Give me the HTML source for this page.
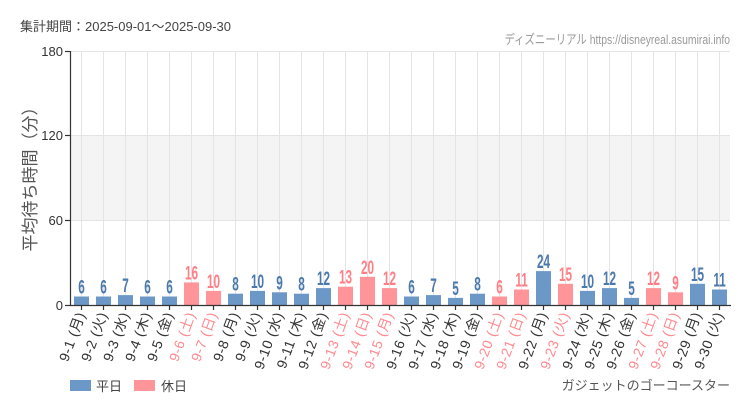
<!DOCTYPE html>
<html><head><meta charset="utf-8"><style>
html,body{margin:0;padding:0;background:#fff;}
svg{display:block;font-family:"Liberation Sans","Noto Sans CJK JP",sans-serif;}
.v{font-size:19px;text-anchor:middle;font-weight:bold;transform-box:fill-box;transform-origin:50% 100%;transform:scaleX(.62);}
.xl{font-size:14px;letter-spacing:0.6px;text-anchor:end;fill:#333}
.xl.hd{fill:#ff8a90}
.url{transform-box:fill-box;transform-origin:100% 50%;transform:scaleX(.8);}
.w{fill:#6b98c6}.h{fill:#ff9499}.v.w{fill:#4a79ac}.v.h{fill:#ff7f86}
</style></head><body>
<svg width="750" height="410" viewBox="0 0 750 410" xmlns="http://www.w3.org/2000/svg">
<text x="20" y="31" font-size="13" fill="#444">集計期間：2025-09-01～2025-09-30</text>
<text class="url" x="730" y="44" font-size="13" fill="#999" text-anchor="end">ディズニーリアル https://disneyreal.asumirai.info</text>
<rect x="70" y="136" width="660" height="84" fill="#f4f4f4"/>
<g stroke="#e4e4e4" stroke-width="1">
<line x1="70" y1="51.5" x2="730" y2="51.5"/><line x1="70" y1="135.5" x2="730" y2="135.5"/><line x1="70" y1="220.5" x2="730" y2="220.5"/>
<line x1="81.5" y1="51" x2="81.5" y2="305"/><line x1="103.5" y1="51" x2="103.5" y2="305"/><line x1="125.5" y1="51" x2="125.5" y2="305"/><line x1="147.5" y1="51" x2="147.5" y2="305"/><line x1="169.5" y1="51" x2="169.5" y2="305"/><line x1="191.5" y1="51" x2="191.5" y2="305"/><line x1="213.5" y1="51" x2="213.5" y2="305"/><line x1="235.5" y1="51" x2="235.5" y2="305"/><line x1="257.5" y1="51" x2="257.5" y2="305"/><line x1="279.5" y1="51" x2="279.5" y2="305"/><line x1="301.5" y1="51" x2="301.5" y2="305"/><line x1="323.5" y1="51" x2="323.5" y2="305"/><line x1="345.5" y1="51" x2="345.5" y2="305"/><line x1="367.5" y1="51" x2="367.5" y2="305"/><line x1="389.5" y1="51" x2="389.5" y2="305"/><line x1="411.5" y1="51" x2="411.5" y2="305"/><line x1="433.5" y1="51" x2="433.5" y2="305"/><line x1="455.5" y1="51" x2="455.5" y2="305"/><line x1="477.5" y1="51" x2="477.5" y2="305"/><line x1="499.5" y1="51" x2="499.5" y2="305"/><line x1="521.5" y1="51" x2="521.5" y2="305"/><line x1="543.5" y1="51" x2="543.5" y2="305"/><line x1="565.5" y1="51" x2="565.5" y2="305"/><line x1="587.5" y1="51" x2="587.5" y2="305"/><line x1="609.5" y1="51" x2="609.5" y2="305"/><line x1="631.5" y1="51" x2="631.5" y2="305"/><line x1="653.5" y1="51" x2="653.5" y2="305"/><line x1="675.5" y1="51" x2="675.5" y2="305"/><line x1="697.5" y1="51" x2="697.5" y2="305"/><line x1="719.5" y1="51" x2="719.5" y2="305"/>
</g>
<g>
<rect class="w" x="74" y="296.5" width="15" height="8.5"/>
<rect class="w" x="96" y="296.5" width="15" height="8.5"/>
<rect class="w" x="118" y="295.1" width="15" height="9.9"/>
<rect class="w" x="140" y="296.5" width="15" height="8.5"/>
<rect class="w" x="162" y="296.5" width="15" height="8.5"/>
<rect class="h" x="184" y="282.4" width="15" height="22.6"/>
<rect class="h" x="206" y="290.9" width="15" height="14.1"/>
<rect class="w" x="228" y="293.7" width="15" height="11.3"/>
<rect class="w" x="250" y="290.9" width="15" height="14.1"/>
<rect class="w" x="272" y="292.3" width="15" height="12.7"/>
<rect class="w" x="294" y="293.7" width="15" height="11.3"/>
<rect class="w" x="316" y="288.1" width="15" height="16.9"/>
<rect class="h" x="338" y="286.7" width="15" height="18.3"/>
<rect class="h" x="360" y="276.8" width="15" height="28.2"/>
<rect class="h" x="382" y="288.1" width="15" height="16.9"/>
<rect class="w" x="404" y="296.5" width="15" height="8.5"/>
<rect class="w" x="426" y="295.1" width="15" height="9.9"/>
<rect class="w" x="448" y="297.9" width="15" height="7.1"/>
<rect class="w" x="470" y="293.7" width="15" height="11.3"/>
<rect class="h" x="492" y="296.5" width="15" height="8.5"/>
<rect class="h" x="514" y="289.5" width="15" height="15.5"/>
<rect class="w" x="536" y="271.1" width="15" height="33.9"/>
<rect class="h" x="558" y="283.8" width="15" height="21.2"/>
<rect class="w" x="580" y="290.9" width="15" height="14.1"/>
<rect class="w" x="602" y="288.1" width="15" height="16.9"/>
<rect class="w" x="624" y="297.9" width="15" height="7.1"/>
<rect class="h" x="646" y="288.1" width="15" height="16.9"/>
<rect class="h" x="668" y="292.3" width="15" height="12.7"/>
<rect class="w" x="690" y="283.8" width="15" height="21.2"/>
<rect class="w" x="712" y="289.5" width="15" height="15.5"/>
</g>
<g>
<text class="v w" x="81.5" y="293.5">6</text>
<text class="v w" x="103.5" y="293.5">6</text>
<text class="v w" x="125.5" y="292">7</text>
<text class="v w" x="147.5" y="293.5">6</text>
<text class="v w" x="169.5" y="293.5">6</text>
<text class="v h" x="191.5" y="279.5">16</text>
<text class="v h" x="213.5" y="288">10</text>
<text class="v w" x="235.5" y="290.5">8</text>
<text class="v w" x="257.5" y="288">10</text>
<text class="v w" x="279.5" y="289.3">9</text>
<text class="v w" x="301.5" y="290.5">8</text>
<text class="v w" x="323.5" y="285">12</text>
<text class="v h" x="345.5" y="283.7">13</text>
<text class="v h" x="367.5" y="273.8">20</text>
<text class="v h" x="389.5" y="285">12</text>
<text class="v w" x="411.5" y="293.5">6</text>
<text class="v w" x="433.5" y="292">7</text>
<text class="v w" x="455.5" y="295">5</text>
<text class="v w" x="477.5" y="290.5">8</text>
<text class="v h" x="499.5" y="293.5">6</text>
<text class="v h" x="521.5" y="286.5">11</text>
<text class="v w" x="543.5" y="268">24</text>
<text class="v h" x="565.5" y="280.8">15</text>
<text class="v w" x="587.5" y="288">10</text>
<text class="v w" x="609.5" y="285">12</text>
<text class="v w" x="631.5" y="295">5</text>
<text class="v h" x="653.5" y="285">12</text>
<text class="v h" x="675.5" y="289.3">9</text>
<text class="v w" x="697.5" y="280.8">15</text>
<text class="v w" x="719.5" y="286.5">11</text>
</g>
<g stroke="#333" stroke-width="1.2">
<line x1="70.5" y1="51" x2="70.5" y2="305"/>
<line x1="70" y1="305.5" x2="731" y2="305.5"/>
<line x1="65" y1="51.5" x2="70" y2="51.5"/><line x1="65" y1="135.5" x2="70" y2="135.5"/><line x1="65" y1="220.5" x2="70" y2="220.5"/><line x1="65" y1="305.5" x2="70" y2="305.5"/>
<line x1="81.5" y1="305" x2="81.5" y2="310"/><line x1="103.5" y1="305" x2="103.5" y2="310"/><line x1="125.5" y1="305" x2="125.5" y2="310"/><line x1="147.5" y1="305" x2="147.5" y2="310"/><line x1="169.5" y1="305" x2="169.5" y2="310"/><line x1="191.5" y1="305" x2="191.5" y2="310"/><line x1="213.5" y1="305" x2="213.5" y2="310"/><line x1="235.5" y1="305" x2="235.5" y2="310"/><line x1="257.5" y1="305" x2="257.5" y2="310"/><line x1="279.5" y1="305" x2="279.5" y2="310"/><line x1="301.5" y1="305" x2="301.5" y2="310"/><line x1="323.5" y1="305" x2="323.5" y2="310"/><line x1="345.5" y1="305" x2="345.5" y2="310"/><line x1="367.5" y1="305" x2="367.5" y2="310"/><line x1="389.5" y1="305" x2="389.5" y2="310"/><line x1="411.5" y1="305" x2="411.5" y2="310"/><line x1="433.5" y1="305" x2="433.5" y2="310"/><line x1="455.5" y1="305" x2="455.5" y2="310"/><line x1="477.5" y1="305" x2="477.5" y2="310"/><line x1="499.5" y1="305" x2="499.5" y2="310"/><line x1="521.5" y1="305" x2="521.5" y2="310"/><line x1="543.5" y1="305" x2="543.5" y2="310"/><line x1="565.5" y1="305" x2="565.5" y2="310"/><line x1="587.5" y1="305" x2="587.5" y2="310"/><line x1="609.5" y1="305" x2="609.5" y2="310"/><line x1="631.5" y1="305" x2="631.5" y2="310"/><line x1="653.5" y1="305" x2="653.5" y2="310"/><line x1="675.5" y1="305" x2="675.5" y2="310"/><line x1="697.5" y1="305" x2="697.5" y2="310"/><line x1="719.5" y1="305" x2="719.5" y2="310"/>
</g>
<g font-size="13" fill="#333" text-anchor="end">
<text x="63" y="56">180</text><text x="63" y="140">120</text><text x="63" y="225">60</text><text x="63" y="310">0</text>
</g>
<text transform="translate(36,175) rotate(-90)" font-size="17" fill="#555" text-anchor="middle">平均待ち時間（分）</text>
<g>
<text class="xl" transform="translate(85.5,314) rotate(-70)">9-1 (月)</text>
<text class="xl" transform="translate(107.5,314) rotate(-70)">9-2 (火)</text>
<text class="xl" transform="translate(129.5,314) rotate(-70)">9-3 (水)</text>
<text class="xl" transform="translate(151.5,314) rotate(-70)">9-4 (木)</text>
<text class="xl" transform="translate(173.5,314) rotate(-70)">9-5 (金)</text>
<text class="xl hd" transform="translate(195.5,314) rotate(-70)">9-6 (土)</text>
<text class="xl hd" transform="translate(217.5,314) rotate(-70)">9-7 (日)</text>
<text class="xl" transform="translate(239.5,314) rotate(-70)">9-8 (月)</text>
<text class="xl" transform="translate(261.5,314) rotate(-70)">9-9 (火)</text>
<text class="xl" transform="translate(283.5,314) rotate(-70)">9-10 (水)</text>
<text class="xl" transform="translate(305.5,314) rotate(-70)">9-11 (木)</text>
<text class="xl" transform="translate(327.5,314) rotate(-70)">9-12 (金)</text>
<text class="xl hd" transform="translate(349.5,314) rotate(-70)">9-13 (土)</text>
<text class="xl hd" transform="translate(371.5,314) rotate(-70)">9-14 (日)</text>
<text class="xl hd" transform="translate(393.5,314) rotate(-70)">9-15 (月)</text>
<text class="xl" transform="translate(415.5,314) rotate(-70)">9-16 (火)</text>
<text class="xl" transform="translate(437.5,314) rotate(-70)">9-17 (水)</text>
<text class="xl" transform="translate(459.5,314) rotate(-70)">9-18 (木)</text>
<text class="xl" transform="translate(481.5,314) rotate(-70)">9-19 (金)</text>
<text class="xl hd" transform="translate(503.5,314) rotate(-70)">9-20 (土)</text>
<text class="xl hd" transform="translate(525.5,314) rotate(-70)">9-21 (日)</text>
<text class="xl" transform="translate(547.5,314) rotate(-70)">9-22 (月)</text>
<text class="xl hd" transform="translate(569.5,314) rotate(-70)">9-23 (火)</text>
<text class="xl" transform="translate(591.5,314) rotate(-70)">9-24 (水)</text>
<text class="xl" transform="translate(613.5,314) rotate(-70)">9-25 (木)</text>
<text class="xl" transform="translate(635.5,314) rotate(-70)">9-26 (金)</text>
<text class="xl hd" transform="translate(657.5,314) rotate(-70)">9-27 (土)</text>
<text class="xl hd" transform="translate(679.5,314) rotate(-70)">9-28 (日)</text>
<text class="xl" transform="translate(701.5,314) rotate(-70)">9-29 (月)</text>
<text class="xl" transform="translate(723.5,314) rotate(-70)">9-30 (火)</text>
</g>
<rect x="70" y="380" width="21" height="11" fill="#6b98c6"/>
<text x="96" y="391" font-size="13" fill="#444">平日</text>
<rect x="134" y="380" width="21" height="11" fill="#ff9499"/>
<text x="161" y="391" font-size="13" fill="#444">休日</text>
<text x="730" y="390" font-size="13" fill="#555" text-anchor="end">ガジェットのゴーコースター</text>
</svg>
</body></html>
